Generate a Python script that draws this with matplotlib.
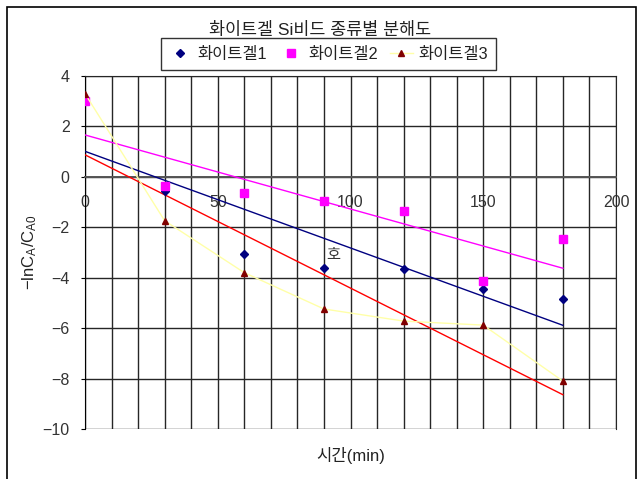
import numpy as np
import matplotlib
matplotlib.use("Agg")
import matplotlib.pyplot as plt
from matplotlib.ticker import MultipleLocator

plt.rcParams['font.family'] = ['Liberation Sans', 'Noto Sans CJK KR']
plt.rcParams['axes.unicode_minus'] = True

# 시간(min)과 각 화이트겔의 -ln(CA/CA0)
time_min = [0, 30, 60, 90, 120, 150, 180]
gel1 = [3.1, -0.55, -3.07, -3.6, -3.66, -4.43, -4.85]
gel2 = [3.0, -0.35, -0.63, -0.95, -1.35, -4.12, -2.47]
gel3 = [3.3, -1.74, -3.8, -5.24, -5.72, -5.88, -8.1]
labels = ["화이트겔1", "화이트겔2", "화이트겔3"]

fig = plt.figure(figsize=(6.4, 4.79), dpi=100)
ax = fig.add_axes([85 / 640, 50 / 479, 531 / 640, 353 / 479])

# 바깥 테두리
fig.patches.append(plt.Rectangle((7 / 640, -0.05), 629 / 640, 1.05 - 7 / 479,
                                 transform=fig.transFigure, fill=False,
                                 edgecolor='black', linewidth=1.2))

ax.set_xlim(0, 200)
ax.set_ylim(-10, 4)
ax.xaxis.set_major_locator(MultipleLocator(50))
ax.xaxis.set_minor_locator(MultipleLocator(10))
ax.yaxis.set_major_locator(MultipleLocator(2))
ax.grid(which='both', axis='x', color='#262626', linewidth=1.0)
ax.grid(which='major', axis='y', color='#262626', linewidth=1.0)
ax.set_axisbelow(True)

for s in ['top', 'right']:
    ax.spines[s].set_color('#262626')
ax.spines['left'].set_color('black')
ax.spines['bottom'].set_position(('data', 0))
ax.spines['bottom'].set_color('#555555')
ax.spines['bottom'].set_linewidth(1.4)
ax.tick_params(axis='x', which='both', length=0, pad=13, labelsize=11.5,
               labelcolor='#333333')
ax.tick_params(axis='y', length=3, direction='out', pad=8, labelsize=11.5,
               labelcolor='#333333')

# 관측값
ax.plot(time_min, gel1, linestyle='none', marker='D', markersize=4.5,
        color='#000080', label=labels[0], zorder=4)
ax.plot(time_min, gel2, linestyle='none', marker='s', markersize=5.2,
        color='#FF00FF', label=labels[1], zorder=4)
ax.plot(time_min, gel3, linestyle='-', color='#FFFFA8', linewidth=1,
        marker='^', markersize=4.5, markerfacecolor='#800000',
        markeredgecolor='#800000', label=labels[2], zorder=4)

# 선형 추세선
t = np.array(time_min, dtype=float)
for ys, c in [(gel1, '#000080'), (gel2, '#FF00FF'), (gel3, '#FF0000')]:
    k, b = np.polyfit(t, ys, 1)
    ax.plot([t[0], t[-1]], [b + k * t[0], b + k * t[-1]], color=c,
            linewidth=1, zorder=3)

ax.text(93.5, -3.1, "호", fontsize=11, ha='center', va='center',
        color='#333333')

fig.text(0.5, 1 - 30 / 479, "화이트겔 Si비드 종류별 분해도", ha='center',
         va='center', fontsize=12.5, color='#222222')

leg = fig.legend(loc='center', bbox_to_anchor=(328.5 / 640, 1 - 54 / 479),
                 ncol=3, fontsize=11.8, frameon=True, fancybox=False,
                 edgecolor='black', handlelength=1.4, handletextpad=0.35,
                 columnspacing=0.75, borderpad=0.5, borderaxespad=0)
leg.get_frame().set_linewidth(1.0)
for txt in leg.get_texts():
    txt.set_color('#222222')

ax.set_xlabel("시간(min)", fontsize=12, color='#222222')
ax.xaxis.set_label_coords(0.5, -18 / 353)
ax.set_ylabel(r"$\mathregular{-lnC_A/C_{A0}}$", fontsize=12, color='#222222')
ax.yaxis.set_label_coords(-46 / 531, 0.5)

fig.savefig("out.png", dpi=100)
